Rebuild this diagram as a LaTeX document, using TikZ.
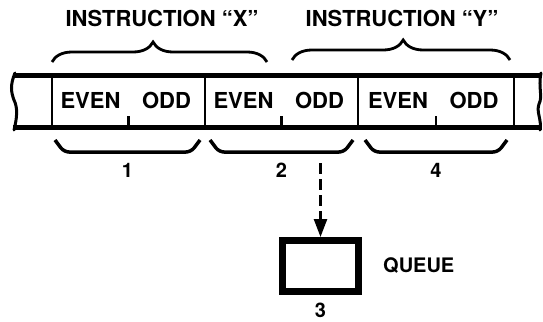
\documentclass[tikz,border=0pt]{standalone}
\usepackage{fontspec}
\setmainfont{TeX Gyre Heros}
\usetikzlibrary{positioning,arrows.meta,decorations.pathreplacing}

\begin{document}
\begin{tikzpicture}[x=1pt, y=-1pt,
    every node/.style={font=\bfseries\fontsize{22}{26}\selectfont, inner sep=0pt},
    numlabel/.style={font=\bfseries\fontsize{20}{24}\selectfont},
    rail/.style={line width=5pt},
    divider/.style={line width=2.2pt},
    tornedge/.style={line width=3pt, line cap=round},
    topbrace/.style={decorate, decoration={brace, amplitude=20pt, aspect=#1}, line width=2.8pt},
    bracket/.style={line width=3.5pt, rounded corners=5pt},
    queuebox/.style={draw, line width=7pt, minimum width=76pt, minimum height=51pt},
    feed/.style={line width=2.5pt, dash pattern=on 11pt off 5pt, -{Triangle[length=18pt,width=13pt]}}]
  \useasboundingbox (0,0) rectangle (543,321);

  % ============ TAPE OF WORDS ============
  \draw[rail] (13,75.5) -- (542,75.5);
  \draw[rail] (13,127.5) -- (542,127.5);
  % torn ends, left and right
  \draw[tornedge] (15,73) .. controls (10,85) and (11,92) .. (14,100)
    .. controls (18,108) and (17,118) .. (14,130);
  \draw[tornedge] (541,73) .. controls (538,88) and (543,96) .. (539,104)
    .. controls (536,112) and (542,120) .. (540,130);
  % word boundaries and byte ticks
  \foreach \x in {52,205,358,514}
    \draw[divider] (\x,75.5) -- (\x,127.5);
  \foreach \x in {128.5,281.5,436}
    \draw[divider] (\x,116) -- (\x,127.5);
  \foreach \c/\x in {1/128.5, 2/281.5, 3/436} {
    \node[anchor=base] (even\c) at (\x-38,108) {EVEN};
    \node[anchor=base] (odd\c)  at (\x+38,108) {ODD};
  }

  % ============ INSTRUCTIONS ABOVE ============
  \draw[topbrace=0.47] (52,62) -- (267,62);
  \draw[topbrace=0.51] (292,60) -- (510,60);
  \node[anchor=base] (instrX) at (162,27) {INSTRUCTION “X”};
  \node[anchor=base] (instrY) at (402,27) {INSTRUCTION “Y”};

  % ============ FETCHES BELOW ============
  \foreach \a/\b/\n in {55/200/1, 210/353/2, 365/507/4} {
    \draw[bracket] (\a,140) -- (\a+9,152) -- (\b-9,152) -- (\b,140);
    \node[numlabel, anchor=base] (fetch\n) at ({(\a+\b)/2},177) {\n};
  }

  % ============ QUEUE ============
  \node[queuebox] (queue) at (320.5,266) {};
  \node[numlabel, below=8pt of queue] (qnum) {3};
  \node[numlabel, right=21pt of queue] (qlabel) {QUEUE};
  \coordinate (tap) at (320.5,163);
  \draw[feed] (tap) -- (queue.north);
\end{tikzpicture}
\end{document}
